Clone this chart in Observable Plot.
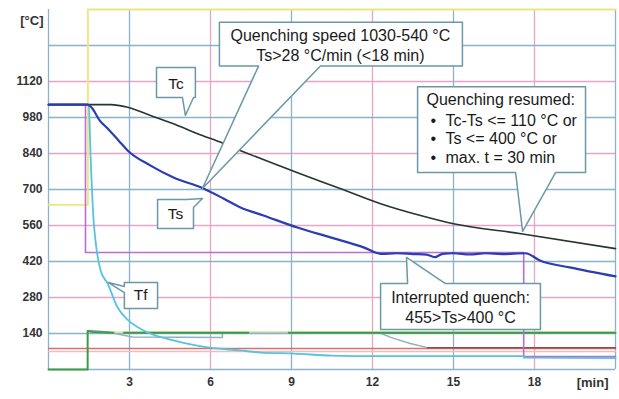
<!DOCTYPE html>
<html><head><meta charset="utf-8">
<script src="https://cdn.jsdelivr.net/npm/d3@7"></script>
<script src="https://cdn.jsdelivr.net/npm/@observablehq/plot@0.6"></script>
<style>
body{margin:0;background:#fff} svg{display:block}
svg g[aria-label*="tick label"], svg g[aria-label*="tick label"] text {font-weight:bold !important;}
</style>
</head><body><div id="chart"></div>
<script>
// ---- tick labels / grid ----
const xTicks = [3, 6, 9, 12, 15, 18];
const yTicks = [140, 280, 420, 560, 700, 840, 980, 1120];
const gridBlueX = [0, 3, 9, 15, 21];
const gridPinkX = [6, 12, 18];
const gridBlueY = [0, 140, 420, 700, 980, 1260];
const gridPinkY = [280, 560, 840, 1120];

// ---- series (time in min, temperature in °C) ----
const tsTime = [0,1.44,1.6,1.9,2.19,2.6,2.93,3.78,4.63,5.74,6.48,7.11,7.96,9.22,10.44,11.67,12.3,12.9,13.5,14.0,14.3,14.6,15.0,15.6,16.2,16.8,17.67,18.2,19.3,21];
const tsTemp = [1030,1030,1018,968,937,890,852,793,747,704,665,630,599,552,514,475,450,452,449,447,437,450,452,448,452,449,452,424,397,362];

const tcTime = [0,2.3,2.93,3.78,4.63,5.5,6.48,7.1,9.2,10.8,12.3,13.78,15.0,17.5,21];
const tcTemp = [1030,1030,1020,988,956,918,879,852,766,704,645,599,567,528,470];

const tfTime = [0,1.45,1.49,1.56,1.68,1.74,1.93,2.19,2.56,2.96,3.52,4.63,5.9,7.1,7.85,9.1,10.5,12,17.6,17.6,21];
const tfTemp = [1030,1030,1030,826,567,502,385,334,241,191,152,113,86,74,66,62,54,52,52,46,44];

const spTime = [0,1.37,1.37,17.6,17.6,21];
const spTemp = [1030,1030,455,455,50,50];

const yeTime = [0,1.46,1.46,21];
const yeTemp = [640,640,1400,1400];

const grTime = [0,1.45,1.45,1.65,2.4,2.45,2.8,7.4,7.45,8.9,21];
const grTemp = [0,0,150,146,143,null,143,143,null,143,143];

const lgTime = [1.45,21];
const lgTemp = [146,146];

const gyTime = [1.45,1.6,2.2,3.1,6.44,6.44,12.3,12.7,13.4,14.0];
const gyTemp = [150,152,146,126,124,141,141,124,101,86];

const rdTime = [0,21];
const rdTemp = [82,82];
const drTime = [14,21];
const drTemp = [85,85];
const pkTime = [0,21];
const pkTemp = [70,70];

// ---- callouts (data space outlines) ----
const cQsT = [6.33,15.33,15.33,10.07,5.70,7.78,6.33];
const cQsV = [1350,1350,1180,1180,704,1180,1180];
const cTcT = [4.0,5.44,5.44,5.37,5.07,4.96,4.0];
const cTcV = [1174,1174,1058,1058,988,1058,1058];
const cTsT = [4.04,5.11,5.70,5.37,5.37,4.04];
const cTsV = [661,661,665,630,548,548];
const cTfT = [2.81,4.04,4.04,2.81,2.81,2.22,2.81];
const cTfV = [338,338,237,237,299,338,323];
const cQrT = [13.67,19.89,19.89,18.78,17.56,17.30,13.67];
const cQrV = [1100,1100,766,766,537,766,766];
const cIqT = [12.30,13.30,13.26,14.70,18.22,18.22,12.30];
const cIqV = [334,334,436,334,334,156,156];

const qsLines = ["Quenching speed 1030-540 °C", "Ts>28 °C/min (<18 min)"];
const qsLineT = [10.81, 10.81];
const qsLineV = [1299, 1220];
const qrHead = "Quenching resumed:";
const qrItems = ["Tc-Ts <= 110 °C or", "Ts <= 400 °C or", "max. t = 30 min"];
const qrItemV = [968, 896, 822];
const iqLines = ["Interrupted quench:", "455>Ts>400 °C"];
const iqLineV = [278, 202];
const shortLabels = ["Tc", "Ts", "Tf"];
const shortT = [4.72, 4.70, 3.41];
const shortV = [1112, 603, 288];

const pts = (ts, vs) => ts.map((t, i) => ({t, v: vs[i]}));
const lineOf = (ts, vs, stroke, w, curve = "linear") => Plot.line(pts(ts, vs), {x: "t", y: "v", stroke, strokeWidth: w, curve});
const box = (ts, vs) => Plot.line(pts(ts, vs), {x: "t", y: "v", fill: "white", stroke: "#6b98a7", strokeWidth: 1.5, curve: "linear-closed"});
const txt = (data, opts) => Plot.text(data, {fontSize: 16, fontWeight: "normal", fill: "#1a1a1a", ...opts});

const chart = Plot.plot({
  width: 619, height: 399,
  marginLeft: 48, marginRight: 4, marginTop: 9, marginBottom: 30,
  x: {domain: [0, 21], label: null},
  y: {domain: [0, 1400], label: null},
  style: {fontFamily: "'Liberation Sans', Arial, sans-serif", color: "#333", background: "#fff"},
  marks: [
    Plot.ruleY(gridPinkY, {stroke: "#e5a4ca", strokeWidth: 1.3}),
    Plot.ruleX(gridPinkX, {stroke: "#e5a4ca", strokeWidth: 1.3}),
    Plot.ruleY(gridBlueY, {stroke: "#88b3c8", strokeWidth: 1.3}),
    Plot.ruleX(gridBlueX, {stroke: "#88b3c8", strokeWidth: 1.3}),
    lineOf(pkTime, pkTemp, "#f3bcbc", 1.3),
    lineOf(rdTime, rdTemp, "#d8706a", 1.5),
    lineOf(drTime, drTemp, "#9a4a44", 1.5),
    lineOf(yeTime, yeTemp, "#ece77c", 1.8),
    lineOf(lgTime, lgTemp, "#dde895", 1.5),
    lineOf(gyTime, gyTemp, "#90b1be", 1.5),
    lineOf(grTime, grTemp, "#3c9a48", 2),
    lineOf(spTime, spTemp, "#b86fd1", 1.6),
    lineOf(tfTime, tfTemp, "#56c3df", 1.8, "monotone-x"),
    lineOf(tcTime, tcTemp, "#24362d", 1.6, "monotone-x"),
    lineOf(tsTime, tsTemp, "#2a3db2", 2.2, "monotone-x"),
    box(cQsT, cQsV), box(cTcT, cTcV), box(cTsT, cTsV), box(cTfT, cTfV), box(cQrT, cQrV), box(cIqT, cIqV),
    txt(qsLines, {x: (d, i) => qsLineT[i], y: (d, i) => qsLineV[i], text: d => d}),
    txt([qrHead], {x: () => 14.0, y: () => 1050, text: d => d, textAnchor: "start"}),
    txt(qrItems, {x: () => 14.15, y: (d, i) => qrItemV[i], text: () => "•", textAnchor: "start"}),
    txt(qrItems, {x: () => 14.70, y: (d, i) => qrItemV[i], text: d => d, textAnchor: "start"}),
    txt(iqLines, {x: () => 15.26, y: (d, i) => iqLineV[i], text: d => d}),
    txt(shortLabels, {x: (d, i) => shortT[i], y: (d, i) => shortV[i], text: d => d, fontSize: 15.5}),
    Plot.axisX(xTicks, {tickSize: 0, tickPadding: 8, fontSize: 12, tickFormat: d => String(d), label: null}),
    Plot.axisY(yTicks, {tickSize: 0, tickPadding: 6, fontSize: 12, tickFormat: d => String(d), label: null}),
    Plot.text(["[°C]"], {frameAnchor: "top-left", textAnchor: "end", dx: -5, dy: 6, fontSize: 13, fontWeight: "bold", fill: "#333"}),
    Plot.text(["[min]"], {frameAnchor: "bottom-right", textAnchor: "end", dx: -7, dy: 17, fontSize: 13, fontWeight: "bold", fill: "#333"})
  ]
});
document.getElementById("chart").appendChild(chart);
</script>
</body></html>
